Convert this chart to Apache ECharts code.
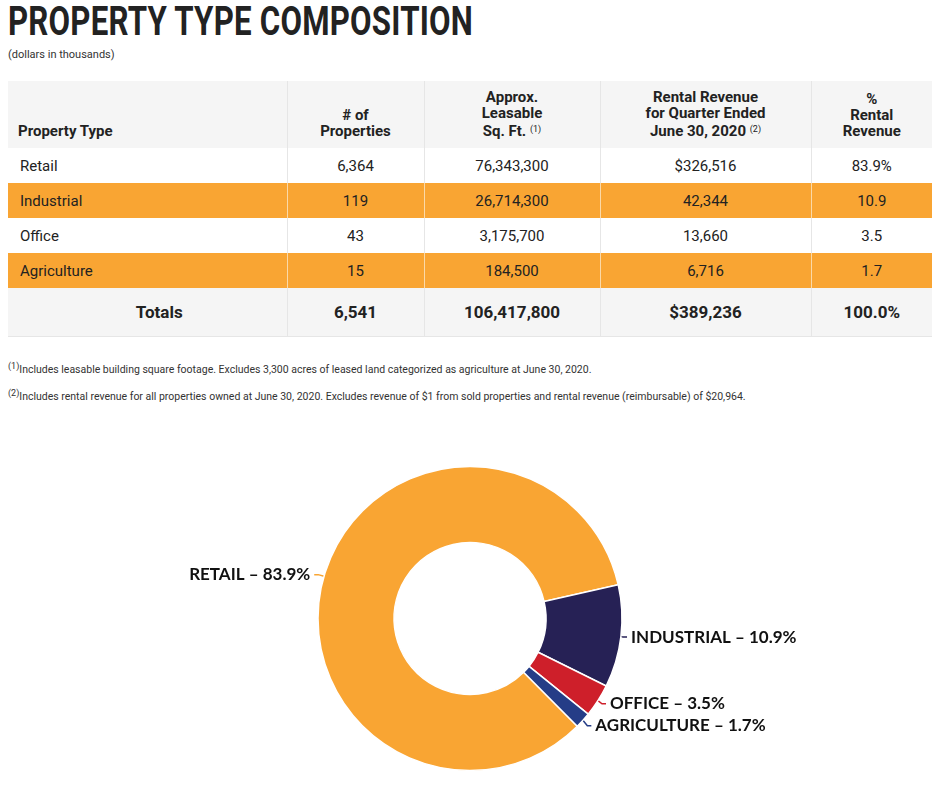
<!DOCTYPE html>
<html>
<head>
<meta charset="utf-8">
<script src="https://cdn.jsdelivr.net/npm/echarts@6/dist/echarts.min.js"></script>
<style>
  body { margin: 0; background: #fff; font-family: Roboto, "Noto Sans", sans-serif; color: #222; }
  #title { position: absolute; left: 8px; top: -2px; font-size: 40px; font-weight: 700; color: #222;
           transform: scaleX(0.78); transform-origin: left top; white-space: nowrap; letter-spacing: 0.3px; }
  #sub { position: absolute; left: 8px; top: 48px; font-size: 11px; color: #333; }
  #tbl { position: absolute; left: 8px; top: 81px; width: 924px; border-collapse: collapse; table-layout: fixed; }
  #tbl th { background: #f5f5f5; font-size: 15px; font-weight: 700; line-height: 16px; height: 58px;
            vertical-align: bottom; padding: 0 4px 9px; text-align: center; border-left: 1px solid #e6e6e6; }
  #tbl th:first-child { text-align: left; padding-left: 10px; border-left: none; }
  #tbl td { height: 35px; padding: 0 4px; font-size: 15px; text-align: center; border-left: 1px solid #e6e6e6; }
  #tbl td:first-child { text-align: left; padding-left: 12px; border-left: none; }
  #tbl tr.alt td { background: #f9a533; border-left-color: #fbd9a8; }
  #tbl tr.alt td:first-child { border-left: none; }
  #tbl tr.tot td { background: #f5f5f5; font-weight: 700; font-size: 17px; height: 48px; border-bottom: 1px solid #e6e6e6; }
  #tbl tr.tot td:first-child { text-align: center; padding-left: 28px; }
  #tbl sup, .fn sup { font-size: 9px; font-weight: 400; vertical-align: 4px; }
  .fn { position: absolute; left: 8px; font-size: 10.5px; color: #333; }
  #chart { position: absolute; left: 0; top: 420px; width: 946px; height: 367px; }
</style>
</head>
<body>
<div id="title">PROPERTY TYPE COMPOSITION</div>
<div id="sub">(dollars in thousands)</div>
<table id="tbl"></table>
<div class="fn" style="top:361px"><sup>(1)</sup>Includes leasable building square footage. Excludes 3,300 acres of leased land categorized as agriculture at June 30, 2020.</div>
<div class="fn" style="top:388px"><sup>(2)</sup>Includes rental revenue for all properties owned at June 30, 2020. Excludes revenue of $1 from sold properties and rental revenue (reimbursable) of $20,964.</div>
<div id="chart"></div>
<script>
// 表格数据
var headers = ['Property Type', '# of<br>Properties', 'Approx.<br>Leasable<br>Sq. Ft. <sup>(1)</sup>',
  'Rental Revenue<br>for Quarter Ended<br>June 30, 2020 <sup>(2)</sup>', '%<br>Rental<br>Revenue'];
var types = ['Retail', 'Industrial', 'Office', 'Agriculture'];
var propCount = ['6,364', '119', '43', '15'];
var sqFt = ['76,343,300', '26,714,300', '3,175,700', '184,500'];
var revenue = ['$326,516', '42,344', '13,660', '6,716'];
var pctText = ['83.9%', '10.9', '3.5', '1.7'];
var totals = ['Totals', '6,541', '106,417,800', '$389,236', '100.0%'];

// 饼图数据
var pieNames = ['RETAIL', 'INDUSTRIAL', 'OFFICE', 'AGRICULTURE'];
var pieValues = [83.9, 10.9, 3.5, 1.7];
var pieColors = ['#f9a533', '#262155', '#ce1f2a', '#253d87'];

// 生成表格
var html = '<colgroup><col style="width:279px"><col style="width:137px"><col style="width:176px"><col style="width:211px"><col style="width:121px"></colgroup>';
html += '<tr>' + headers.map(function (h) { return '<th>' + h + '</th>'; }).join('') + '</tr>';
types.forEach(function (t, i) {
  html += '<tr class="' + (i % 2 ? 'alt' : '') + '"><td>' + t + '</td><td>' + propCount[i] + '</td><td>' +
    sqFt[i] + '</td><td>' + revenue[i] + '</td><td>' + pctText[i] + '</td></tr>';
});
html += '<tr class="tot">' + totals.map(function (v) { return '<td>' + v + '</td>'; }).join('') + '</tr>';
document.getElementById('tbl').innerHTML = html;

// 环形图
var oChart = echarts.init(document.getElementById('chart'));
oChart.setOption({
  animation: false,
  series: [{
    type: 'pie',
    center: [470, 198.5],
    radius: [76, 152],
    startAngle: 314.9,
    clockwise: true,
    avoidLabelOverlap: true,
    itemStyle: { borderColor: '#fff', borderWidth: 1.5 },
    label: {
      formatter: function (p) { return p.name + ' \u2013 ' + p.value + '%'; },
      color: '#111',
      fontSize: 17,
      fontWeight: 'bold',
      fontFamily: 'Lato, "Open Sans", sans-serif',
      distanceToLabelLine: 4,
      minMargin: 5
    },
    labelLine: { length: 6, length2: 4, lineStyle: { width: 1.5 } },
    data: pieNames.map(function (n, i) {
      return { name: n, value: pieValues[i], itemStyle: { color: pieColors[i] } };
    })
  }]
});
</script>
</body>
</html>
